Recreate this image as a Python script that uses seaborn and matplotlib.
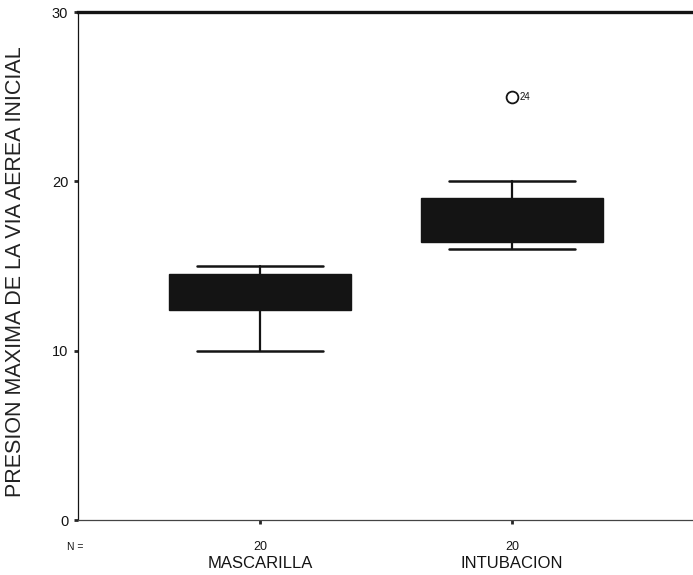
import matplotlib
matplotlib.use("Agg")
import matplotlib.pyplot as plt
import seaborn as sns

# Group summaries (boxplot statistics, N = 20 per group)
groups = ["MASCARILLA", "INTUBACION"]
n_obs = [20, 20]
whisker_low = [10.0, 16.0]
q1 = [12.4, 16.4]
median = [13.0, 17.5]
q3 = [14.5, 19.0]
whisker_high = [15.0, 20.0]
outliers = [[], [25.0]]
outlier_ids = [[], ["24"]]
y_ticks = [0, 10, 20, 30]
y_label = "PRESION MAXIMA DE LA VIA AEREA INICIAL"

sns.set_theme(style="white")
plt.rcParams["font.family"] = ["Liberation Sans", "DejaVu Sans"]

fig = plt.figure(figsize=(6.93, 5.75), dpi=100)
ax = fig.add_axes([78 / 693, 55 / 575, 615 / 693, 508 / 575])

stats = []
for i, g in enumerate(groups):
    stats.append({
        "label": g,
        "whislo": whisker_low[i],
        "q1": q1[i],
        "med": median[i],
        "q3": q3[i],
        "whishi": whisker_high[i],
        "fliers": outliers[i],
    })

dark = "#141414"
ax.bxp(
    stats,
    positions=range(len(groups)),
    widths=0.72,
    capwidths=0.5,
    patch_artist=True,
    showfliers=True,
    boxprops=dict(facecolor=dark, edgecolor=dark, linewidth=1.0),
    medianprops=dict(color=dark, linewidth=1.0),
    whiskerprops=dict(color=dark, linewidth=1.6),
    capprops=dict(color=dark, linewidth=1.8),
    flierprops=dict(marker="o", markerfacecolor="none", markeredgecolor=dark,
                    markersize=8.5, markeredgewidth=1.3),
)

# case number next to each outlier
for i, (vals, ids) in enumerate(zip(outliers, outlier_ids)):
    for v, lab in zip(vals, ids):
        ax.annotate(lab, (i, v), xytext=(5.5, 0), textcoords="offset points",
                    ha="left", va="center", fontsize=7, color=dark)

ax.set_xlim(-0.722, 1.718)
ax.set_ylim(0, 30)
ax.set_yticks(y_ticks)
ax.set_yticklabels([str(t) for t in y_ticks], fontsize=10.5, color=dark)
ax.tick_params(axis="y", direction="out", length=3, width=2, pad=4, left=True)
ax.set_xticks(range(len(groups)))
ax.set_xticklabels([str(n) for n in n_obs], fontsize=9, color=dark)
ax.tick_params(axis="x", direction="out", length=3, width=2, pad=12, bottom=True)

ax.spines["right"].set_visible(False)
ax.spines["left"].set_color(dark)
ax.spines["left"].set_linewidth(0.9)
ax.spines["bottom"].set_color("#444444")
ax.spines["bottom"].set_linewidth(0.9)
ax.spines["top"].set_color(dark)
ax.spines["top"].set_linewidth(2.4)

# N = label and group names under the axis
ax.text(-0.005, -27 / 508, "N =", transform=ax.transAxes, fontsize=7.5,
        ha="center", va="center", color=dark)
for i, g in enumerate(groups):
    ax.text(i, -43 / 508, g, transform=ax.get_xaxis_transform(),
            fontsize=12, ha="center", va="center", color=dark)

fig.text(16 / 693, 1 - 272 / 575, y_label, rotation=90, fontsize=15.5,
         ha="center", va="center", color="#222222")

fig.savefig("out.png", dpi=100)
